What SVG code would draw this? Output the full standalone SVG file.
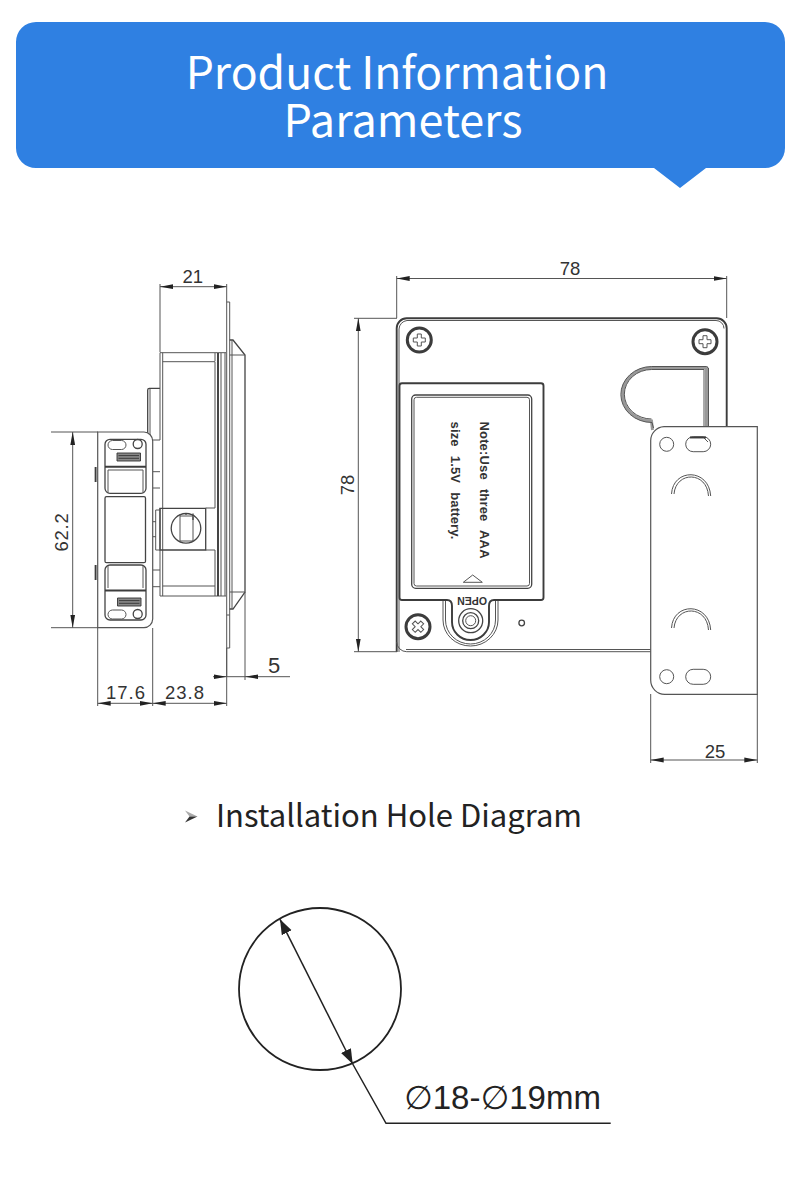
<svg xmlns="http://www.w3.org/2000/svg" width="800" height="1179" viewBox="0 0 800 1179">
<style>
.l{fill:none;stroke:#555;stroke-width:1}
.m{fill:none;stroke:#444;stroke-width:1.3}
.k{fill:none;stroke:#3c3c3c;stroke-width:1.9}
.g{fill:none;stroke:#999;stroke-width:3}
.d{fill:none;stroke:#555;stroke-width:1}
.da{fill:none;stroke:#555;stroke-width:1;marker-start:url(#as);marker-end:url(#ae)}
.w{fill:#fff;stroke:#555;stroke-width:1.2}
.t{font-family:"Liberation Sans",Arial,sans-serif;font-size:18.5px;fill:#333;text-anchor:middle}
.five{font-size:22px}
.note{font-family:"Liberation Sans",Arial,sans-serif;font-size:13px;font-weight:bold;fill:#333;word-spacing:0.8px;letter-spacing:0.15px}
.cjk{font-family:"Noto Sans CJK SC","Noto Sans",sans-serif}
</style>
<defs>
<marker id="ae" markerUnits="userSpaceOnUse" markerWidth="14" markerHeight="8" refX="13" refY="4" orient="auto"><path d="M0 1.600L13 4L0 6.400z" fill="#222"/></marker>
<marker id="as" markerUnits="userSpaceOnUse" markerWidth="14" markerHeight="8" refX="1" refY="4" orient="auto"><path d="M14 1.600L1 4L14 6.400z" fill="#222"/></marker>
<marker id="bae" markerUnits="userSpaceOnUse" markerWidth="16" markerHeight="14" refX="15" refY="7" orient="auto"><path d="M0 1.500L15 7L0 12.500z" fill="#222"/></marker>
<marker id="bas" markerUnits="userSpaceOnUse" markerWidth="16" markerHeight="14" refX="1" refY="7" orient="auto"><path d="M16 1.500L1 7L16 12.500z" fill="#222"/></marker>
<g id="screwRing"><circle r="12" fill="#fff" stroke="#3c3c3c" stroke-width="3"/></g>
<path id="bar" d="M0 0H23.500V8H0z M1.500 2.600H22 M1.500 5.300H22"/>
</defs>
<rect width="800" height="1179" fill="#fff"/>

<g id="banner">
<path d="M36 22H765a20 20 0 0 1 20 20V148a20 20 0 0 1-20 20H706L680 188L654 168H36a20 20 0 0 1-20-20V42a20 20 0 0 1 20-20z" fill="#2f80e2"/>
<text class="cjk" x="397" y="89" font-size="44.500" fill="#fff" text-anchor="middle">Product Information</text>
<text class="cjk" x="403" y="137" font-size="45" fill="#fff" text-anchor="middle">Parameters</text>
</g>

<g id="side-view">
<path class="m" d="M147.700 440V390q0-1.700 1.700-1.700H160"/>
<path class="l" d="M150 389V440M152.700 440H160V352.700"/>
<path class="l" d="M152.700 471.700H160M152.700 488H160M152.700 570H160M152.700 586.700H160M152.700 521.700H156M152.700 536.700H156"/>
<path class="l" d="M160 352.700H226M162.700 352.700V596M160 508V596H226M162.700 361.700H215V508M162.700 586H215V550"/>
<path class="k" d="M218 353V596"/>
<path class="l" d="M215 353V361M215 586V596M221 353V596M225 353V596"/>
<path class="l" d="M226.700 302V333M229.700 302V333M226.700 302H229.700M226.700 333V615M229.700 333V615"/>
<path class="l" d="M226.700 615V677M229.700 615V648M226.700 615H229.700M226.700 648H229.700"/>
<path class="m" d="M229.700 340H233L245 355V592L233 609H229.700"/>
<path class="l" d="M229.700 355H245M229.700 592H245M232 340V609"/>
<path class="m" d="M160 508.300H205.700V550H160z" fill="#fff"/>
<path class="l" d="M160 510H155.700V550H160M205.700 508H215M205.700 550H215"/>
<circle class="m" cx="186" cy="528.300" r="14.800"/>
<path class="l" d="M180 517V541H193V517M180 517V514M193 516H180"/>
<path class="m" d="M186 515V514M193 520V513.500"/>
<path class="w" d="M97.700 432H144a9 9 0 0 1 8.700 9V619a9 9 0 0 1-8.700 8.700H97.700z"/>
<path class="k" d="M95.600 467V482M95.600 565V580"/>
<rect class="m" x="105" y="439.300" width="41" height="54" rx="5"/>
<rect class="l" x="108" y="440.500" width="18" height="9" rx="4.500"/>
<circle class="m" cx="137.700" cy="444" r="4.500"/>
<use href="#bar" x="117" y="453" fill="#888" stroke="#333" stroke-width="0.900"/>
<path class="k" d="M105 466.700H146"/>
<path class="l" d="M108 470H143M108 470V493M143 470V493"/>
<rect class="m" x="105" y="496.700" width="40.500" height="66" rx="1.500"/>
<rect class="m" x="105" y="565" width="41" height="55" rx="5"/>
<path class="k" d="M105 590.500H146"/>
<path class="l" d="M108 588V566M143 588V566"/>
<use href="#bar" x="117.500" y="598" fill="#888" stroke="#333" stroke-width="0.900"/>
<rect class="l" x="108" y="610" width="18" height="9" rx="4.500"/>
<circle class="m" cx="137.700" cy="614" r="4.500"/>
</g>

<g id="front-view">
<path class="k" d="M396.700 652V328.300a10 10 0 0 1 10-10H716.700a10 10 0 0 1 10 10V427"/>
<path class="l" d="M399 652V329a9 9 0 0 1 8-8.500H716a8 8 0 0 1 8 8M396.700 642a10 10 0 0 0 10 9.700H651M406 649.500H651"/>
<g id="screw-tl" transform="translate(419.300 340)"><use href="#screwRing"/><path class="l" d="M-2-6H2V-2H6V2H2V6H-2V2H-6V-2H-2z"/></g>
<g id="screw-tr" transform="translate(705 341.700)"><use href="#screwRing"/><path class="l" d="M-2-6H2V-2H6V2H2V6H-2V2H-6V-2H-2z"/></g>
<g id="screw-bl" transform="translate(418 626.700)"><use href="#screwRing"/><path class="l" d="M-2-6H2V-2H6V2H2V6H-2V2H-6V-2H-2z" transform="rotate(45)"/></g>
<g id="battery-cover">
<path class="l" d="M443 600V620A27.500 26 0 0 0 498 620V600M445.500 600V620A25 24 0 0 0 495.500 620V600"/>
<path class="k" d="M402 383.300H541a2.500 2.500 0 0 1 2.500 2.500V597.500a2.500 2.500 0 0 1-2.500 2.500H494Q489 600 489 606V622A18.500 18 0 0 1 452 622V606Q452 600 447 600H402a2.500 2.500 0 0 1-2.500-2.500V385.800a2.500 2.500 0 0 1 2.500-2.500z"/>
<rect class="m" x="411.700" y="395" width="120" height="193.300" rx="4"/>
<rect class="l" x="414" y="397.300" width="115.500" height="188.700" rx="2.500"/>
<path class="l" d="M463.300 582.300H482.300L472.700 575z"/>
<circle class="m" cx="470.700" cy="620.700" r="12"/>
<circle class="m" cx="470.700" cy="620.700" r="8"/>
<circle class="l" cx="470.700" cy="620.700" r="5"/>
<text font-family="Liberation Sans,Arial,sans-serif" font-size="10.500" font-weight="bold" fill="#333" text-anchor="middle" transform="translate(472 597) rotate(180)">OPEN</text>
<text class="note" transform="translate(480 421.500) rotate(90)" xml:space="preserve">Note:Use  three  AAA</text>
<text class="note" transform="translate(451 421.500) rotate(90)" xml:space="preserve">size  1.5V  battery.</text>
</g>
<circle class="m" cx="521.700" cy="623" r="2.800"/>
<path class="g" d="M706.500 427V368H651.700A29 26.500 0 0 0 651.500 421L652.500 430"/>
<path class="l" d="M704 427V369.500H651.700A27 24.500 0 0 0 651.500 419M708.500 427V368L706.500 366.500H651.700A31 28 0 0 0 652 422.500L653.500 428"/>
<g id="bracket">
<path class="w" d="M664 426.700H757.300V694.300H665a14 14 0 0 1-14.300-14V441a14 14 0 0 1 13.300-14.300z"/>
<circle class="l" cx="666.700" cy="444.300" r="7"/>
<rect class="l" x="685.700" y="436.700" width="25" height="15" rx="7.500"/>
<path class="k" d="M690 437.500H706"/>
<path class="l" d="M704 438L708 442"/>
<circle class="l" cx="666.700" cy="676.700" r="7"/>
<rect class="l" x="685.700" y="669.300" width="25" height="15" rx="7.500"/>
<path class="l" d="M671.500 494C673 468 709 468 710.700 496M674 494C676 471 707 471 708.500 496"/>
<path class="l" d="M671.500 628C673 602 709 602 710.700 630M674 628C676 605 707 605 708.500 630"/>
</g>
</g>

<g id="connectors">
<path class="d" d="M160 284V352M226.700 284V302M51 432H98M51 627.700H98M97.700 628V706M152.700 628V706M226.700 648V706M245 592V680"/>
<path class="da" d="M160 286.700H226.700"/>
<path class="da" d="M72.700 432V627.700"/>
<path class="da" d="M97.700 703.300H152.700"/>
<path class="da" d="M152.700 703.300H226.700"/>
<path class="d" d="M213 676.700H290"/>
<path d="M226.700 676.700L214 674.500V678.900zM245 676.700L258 674.500V678.900z" fill="#222"/>
<path class="d" d="M396.700 276V318M726.700 276V318M354 318.300H397M354 651.700H397M650.700 694V763M757.300 694V763"/>
<path class="da" d="M396.700 278.500H726.700"/>
<path class="da" d="M358.300 318.300V651.700"/>
<path class="da" d="M650.700 760H757.300"/>
<path d="M280 919.300L352.700 1064" fill="none" stroke="#222" stroke-width="1.500" marker-start="url(#bas)" marker-end="url(#bae)"/>
<path d="M352.700 1064L386 1123.300H610.700" fill="none" stroke="#222" stroke-width="1.500"/>
</g>

<g id="labels">
<text class="t" x="192.700" y="283">21</text>
<text class="t" x="570" y="275">78</text>
<text class="t" transform="translate(354 485) rotate(-90)">78</text>
<text class="t" transform="translate(68 532) rotate(-90)" letter-spacing="0.800">62.2</text>
<text class="t" x="126" y="699" letter-spacing="1">17.6</text>
<text class="t" x="185" y="699" letter-spacing="1">23.8</text>
<text class="t five" x="274" y="673">5</text>
<text class="t" x="715" y="758">25</text>
</g>

<g id="install-heading">
<path d="M185 810.500L197.500 816.500L189.500 816.500z" fill="#aaa"/>
<path d="M197.500 816.500L185 822.500L189.500 816.500z" fill="#333"/>
<text class="cjk" x="216" y="827" font-size="31" fill="#222">Installation Hole Diagram</text>
</g>
<g id="hole">
<circle cx="320" cy="989" r="81" fill="none" stroke="#222" stroke-width="1.800"/>
<text x="404" y="1108.500" font-family="Liberation Sans,DejaVu Sans,sans-serif" font-size="33" fill="#222">∅18-∅19mm</text>
</g>
</svg>
